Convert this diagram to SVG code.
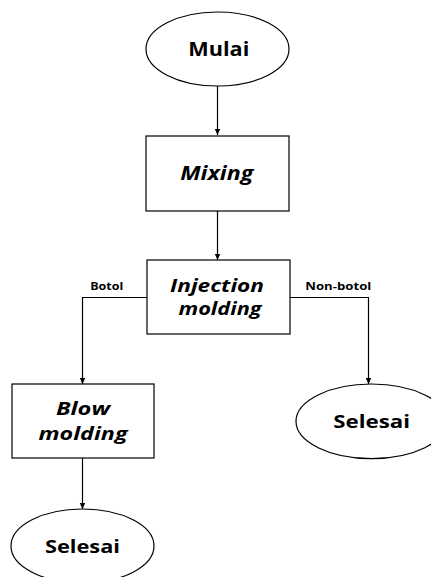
<svg xmlns="http://www.w3.org/2000/svg" width="431" height="577" viewBox="0 0 431 577">
<defs>
<marker id="arr" markerWidth="8" markerHeight="8" refX="7" refY="4" orient="auto" markerUnits="userSpaceOnUse">
<path d="M1,1.3 L7,4 L1,6.7 Z" fill="#000"/>
</marker>
<style>
.shape{fill:#fff;stroke:#000;stroke-width:1.2}
.t{font-family:"Open Sans","Liberation Sans",sans-serif;font-weight:bold;fill:#000;text-anchor:middle}
.it{font-style:italic;font-size:18px}
.term{font-size:18px}
.lbl{font-size:10px}
.c{fill:none;stroke:#000;stroke-width:1.2}
</style>
</defs>
<rect width="431" height="577" fill="#fff"/>
<g id="connectors">
<line class="c" x1="217.5" y1="86" x2="217.5" y2="135" marker-end="url(#arr)"/>
<line class="c" x1="217.5" y1="211" x2="217.5" y2="260" marker-end="url(#arr)"/>
<polyline class="c" points="147,297.5 82.5,297.5 82.5,384" marker-end="url(#arr)"/>
<polyline class="c" points="290,297.5 368.5,297.5 368.5,384" marker-end="url(#arr)"/>
<line class="c" x1="82.5" y1="458" x2="82.5" y2="509" marker-end="url(#arr)"/>
<text class="t lbl" x="106.7" y="290" textLength="33" lengthAdjust="spacingAndGlyphs">Botol</text>
<text class="t lbl" x="338.3" y="290" textLength="66" lengthAdjust="spacingAndGlyphs">Non-botol</text>
</g>
<g id="mulai">
<ellipse class="shape" cx="217.5" cy="49" rx="71.5" ry="37"/>
<text class="t term" x="218.8" y="56" style="font-size:19px" textLength="61" lengthAdjust="spacingAndGlyphs">Mulai</text>
</g>
<g id="mixing">
<rect class="shape" x="146" y="136" width="143" height="75"/>
<text class="t it" x="216.7" y="179.5" style="font-size:19px" textLength="73" lengthAdjust="spacingAndGlyphs">Mixing</text>
</g>
<g id="injection">
<rect class="shape" x="147" y="260" width="143" height="74"/>
<text class="t it" x="217" y="292" textLength="94" lengthAdjust="spacingAndGlyphs">Injection</text>
<text class="t it" x="220" y="315" textLength="83" lengthAdjust="spacingAndGlyphs">molding</text>
</g>
<g id="blow">
<rect class="shape" x="12" y="384" width="142" height="74"/>
<text class="t it" x="83" y="415" textLength="54" lengthAdjust="spacingAndGlyphs">Blow</text>
<text class="t it" x="83" y="439.5" textLength="89" lengthAdjust="spacingAndGlyphs">molding</text>
</g>
<g id="selesai1">
<ellipse class="shape" cx="82.5" cy="546" rx="71.5" ry="37"/>
<text class="t term" x="82.5" y="553.3" style="font-size:17px" textLength="75" lengthAdjust="spacingAndGlyphs">Selesai</text>
</g>
<g id="selesai2">
<ellipse class="shape" cx="371.5" cy="421.3" rx="75.5" ry="37.3"/>
<text class="t term" x="371.7" y="428.3" style="font-size:17px" textLength="76.7" lengthAdjust="spacingAndGlyphs">Selesai</text>
</g>
</svg>
